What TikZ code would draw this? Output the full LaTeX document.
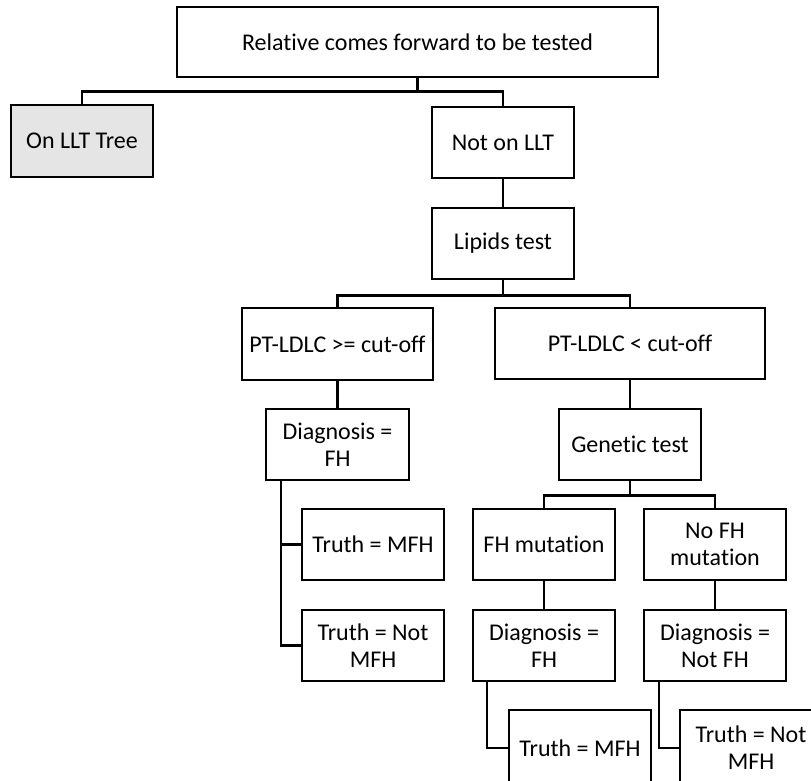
\documentclass[tikz,border=0pt]{standalone}
\usepackage{fontspec}
\setmainfont{Carlito}[Ligatures=NoCommon]
\begin{document}
\begin{tikzpicture}[x=1pt, y=-1pt,
  box/.style={draw, line width=2.6pt, fill=white, align=center, inner sep=0pt,
    minimum width=142pt, minimum height=71pt,
    font=\fontsize{24}{27}\selectfont},
  shaded/.style={box, fill=black!10},
  link/.style={line width=2.6pt}]
\useasboundingbox (0,0) rectangle (811,780);

% decision tree boxes
\node[box, minimum width=481pt, minimum height=70pt] (top) at (417.5,42) {Relative comes forward to be tested};
\node[shaded, minimum height=72pt] (onllt) at (82,141) {On LLT Tree};
\node[box] (notllt) at (503,142.5) {Not on LLT};
\node[box] (lipids) at (503,243.5) {Lipids test};
\node[box, minimum width=191pt, minimum height=72pt] (ptge) at (337.5,344) {PT-LDLC >= cut-off};
\node[box, minimum width=270pt] (ptlt) at (630,343.5) {PT-LDLC < cut-off};
\node[box, minimum width=143pt] (diag1) at (337.5,444.5) {Diagnosis =\\FH};
\node[box] (gen) at (630,444.5) {Genetic test};
\node[box] (t1) at (373,544.5) {Truth = MFH};
\node[box] (fhm) at (544,544.5) {FH mutation};
\node[box] (nofhm) at (715,544.5) {No FH\\mutation};
\node[box] (t2) at (373,645.5) {Truth = Not\\MFH};
\node[box] (diag2) at (544,645.5) {Diagnosis =\\FH};
\node[box] (diag3) at (715,645.5) {Diagnosis =\\Not FH};
\node[box, minimum height=76pt] (t3) at (580,748) {Truth = MFH};
\node[box, minimum height=76pt] (t4) at (751,748) {Truth = Not\\MFH};

% elbow connectors
\draw[link] (top.south) -- ++(0,13) -| (onllt.north);
\draw[link] (top.south) -- ++(0,13) -| (notllt.north);
\draw[link] (notllt.south) -- (lipids.north);
\draw[link] (lipids.south) -- ++(0,15) -| (ptge.north);
\draw[link] (lipids.south) -- ++(0,15) -| (ptlt.north);
\draw[link] (ptge.south) -- (diag1.north);
\draw[link] (ptlt.south) -- (gen.north);
\draw[link] (gen.south) -- ++(0,14) -| (fhm.north);
\draw[link] (gen.south) -- ++(0,14) -| (nofhm.north);
\draw[link] ([xshift=-56.5pt]diag1.south) |- (t1.west);
\draw[link] ([xshift=-56.5pt]diag1.south) |- (t2.west);
\draw[link] (fhm.south) -- (diag2.north);
\draw[link] (nofhm.south) -- (diag3.north);
\draw[link] ([xshift=-57pt]diag2.south) |- (t3.west);
\draw[link] ([xshift=-56pt]diag3.south) |- (t4.west);
\end{tikzpicture}
\end{document}
